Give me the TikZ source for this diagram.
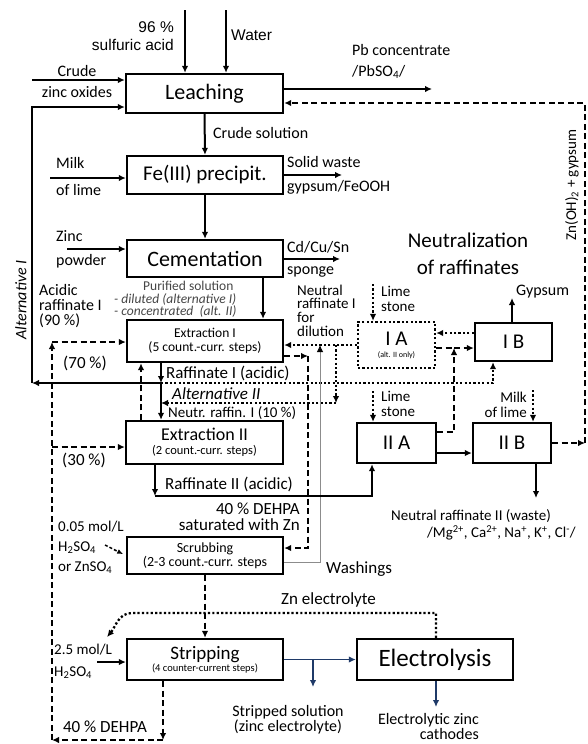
\documentclass[tikz,border=0pt]{standalone}
\usepackage{fontspec}
\setmainfont{Carlito}
\newfontfamily\arialf{Liberation Sans}
\usetikzlibrary{arrows.meta}
\newcommand\fsz[1]{\fontsize{#1}{#1}\selectfont}
\newcommand\fszb[2]{\fontsize{#1}{#2}\selectfont}
\definecolor{navy}{HTML}{1F3A68}
\definecolor{txtgray}{HTML}{454545}
\begin{document}
\begin{tikzpicture}[x=1pt,y=-1pt,
  every node/.style={inner sep=0pt},
  lab/.style={font=\fsz{16}},
  box/.style={draw, line width=2.3pt, align=center, inner sep=0pt},
  dbox/.style={box, dash pattern=on 2.2pt off 2.2pt},
  arr/.style={-{Latex[length=7pt,width=6.5pt]}},
  sol/.style={line width=2pt},
  dsh/.style={line width=2.3pt, dash pattern=on 6pt off 3.5pt},
  dtt/.style={line width=2.3pt, dash pattern=on 2.2pt off 2.2pt},
  bl/.style={line width=1.6pt, draw=navy},
  gl/.style={line width=0.8pt, draw=black!45},
]
\useasboundingbox (0,0) rectangle (588,744);

% ---------- boxes ----------
\node[box, minimum width=157pt, minimum height=39pt, font=\fsz{22}] (leach) at (204.5,93.5) {Leaching};
\node[box, minimum width=156pt, minimum height=38pt, font=\fsz{21}] (fe) at (205,175) {Fe(III) precipit.};
\node[box, minimum width=156pt, minimum height=37pt, font=\fsz{22}] (cem) at (205,258.5) {Cementation};
\node[box, minimum width=156pt, minimum height=42pt, font=\fsz{13.5}] (ex1) at (205,341) {Extraction I\\(5 count.-curr. steps)};
\node[box, minimum width=157pt, minimum height=43pt] (ex2) at (204.5,442.5) {\fsz{18}Extraction II\\[2.5pt]\fsz{12.5}(2 count.-curr. steps)};
\node[box, minimum width=156pt, minimum height=37pt, font=\fsz{14}] (scr) at (205,555.5) {Scrubbing\\(2-3 count.-curr. steps};
\node[box, minimum width=156pt, minimum height=41pt] (strip) at (205,659.5) {\fsz{19}Stripping\\\fsz{10.5}(4 counter-current steps)};
\node[box, minimum width=156pt, minimum height=41pt, font=\fsz{25}] (elec) at (435,659.5) {Electrolysis};
\node[dbox, minimum width=77pt, minimum height=46pt] (ia) at (396.5,345) {\fsz{21}I A\\\fsz{8}(alt. II only)};
\node[box, minimum width=77pt, minimum height=38pt, font=\fsz{21}] (ib) at (513.5,342) {I B};
\node[box, minimum width=79pt, minimum height=40pt, font=\fsz{21}] (iia) at (396.5,443) {II A};
\node[box, minimum width=78pt, minimum height=40pt, font=\fsz{21}] (iib) at (512,443) {II B};

% ---------- helper coordinates ----------
\coordinate (x161) at (161,0);
\coordinate (x141) at (141,0);
\coordinate (x263) at (263,0);
\coordinate (x163) at (163,0);
\coordinate (y333) at (0,333);
\coordinate (y453) at (0,453);

% ---------- top feeds ----------
\coordinate (acidin) at (185,10);
\coordinate (waterin) at (226,10);
\draw[sol,arr] (acidin) -- (acidin |- leach.north);
\draw[sol,arr] (waterin) -- (waterin |- leach.north);
\node[font=\arialf\fszb{15.5}{18}, align=right, anchor=east] (lsulf) at (174,36) {96 \%\\sulfuric acid};
\node[font=\arialf\fsz{15.5}, anchor=west] (lwater) at (231,35) {Water};

\coordinate (zoin) at (32,80);
\draw[sol,arr] (zoin) -- (zoin -| leach.west);
\node[lab] (lcrude) at (77,71) {Crude};
\node[lab] (lzo) at (77,92) {zinc oxides};

% Alternative I loop
\coordinate (raf1) at (161,383);
\coordinate (altI) at (32,383);
\coordinate (altItop) at (32,107);
\draw[sol,arr] (raf1) -- (altI);
\draw[sol,arr] (altI) -- (altItop) -- (altItop -| leach.west);
\node[font=\fsz{16}\itshape, rotate=90] (laltI) at (21,300) {Alternative I};

% Pb concentrate
\coordinate (pbout) at (432,89);
\draw[sol,arr] (leach.east |- pbout) -- (pbout);
\node[lab, anchor=west] (lpb) at (352,50) {Pb concentrate};
\node[lab, anchor=west] (lpbso) at (352,72) {/PbSO\textsubscript{4}/};

% return Zn(OH)2 + gypsum
\coordinate (rb) at (585,443);
\coordinate (rt) at (585,103);
\draw[dsh,arr] (iib.east) -- (rb);
\draw[dsh,arr] (rb) -- (rt) -- (rt -| leach.east);
\node[font=\fsz{15}, rotate=90] (lznoh) at (572,185) {Zn(OH)\textsubscript{2} + gypsum};

% ---------- leaching -> Fe -> cementation ----------
\draw[sol,arr] (leach.south) -- (fe.north);
\node[lab, anchor=west] (lcs) at (213,133) {Crude solution};

\coordinate (milk1) at (50,178);
\draw[sol,arr] (milk1) -- (milk1 -| fe.west);
\node[lab, anchor=west] (lmilk) at (56,163) {Milk};
\node[lab, anchor=west] (lofl) at (56,190) {of lime};

\coordinate (sw) at (342,175);
\draw[sol,arr] (fe.east |- sw) -- (sw);
\node[lab, anchor=west] (lsw) at (287,162) {Solid waste};
\node[lab, anchor=west] (lgf) at (287,187) {gypsum/FeOOH};

\draw[sol,arr] (fe.south) -- (cem.north);

\coordinate (zp) at (67,249);
\draw[sol,arr] (zp) -- (zp -| cem.west);
\node[lab, anchor=west] (lzinc) at (56,236) {Zinc};
\node[lab, anchor=west] (lpow) at (56,261) {powder};

\coordinate (cd) at (340,259);
\draw[sol,arr] (cem.east |- cd) -- (cd);
\node[lab, anchor=west] (lcd) at (287,247) {Cd/Cu/Sn};
\node[lab, anchor=west] (lsp) at (287,272) {sponge};

% ---------- cementation -> extraction I ----------
\draw[sol,arr] (x263 |- cem.south) -- (x263 |- ex1.north);
\node[font=\fszb{13.5}{12.5}, text=txtgray, align=left, anchor=west] (lpur) at (114,299.5)
  {\hspace*{29pt}Purified solution\\\itshape - diluted (alternative I)\\\itshape - concentrated\ \ (alt. II)};
\node[font=\fszb{16}{15}, align=left, anchor=west] (lacid) at (39,306) {Acidic\\raffinate I\\(90 \%)};

% left dashed organic loop
\coordinate (sb) at (163,740);
\coordinate (dl) at (52,740);
\coordinate (dtop) at (52,342);
\coordinate (d30) at (52,447);
\draw[dsh,arr] (x163 |- strip.south) -- (sb);
\draw[dsh,arr] (sb) -- (dl);
\draw[dsh,arr] (dl) -- (dtop);
\draw[dsh,arr] (dtop) -- (dtop -| ex1.west);
\draw[dsh,arr] (d30) -- (d30 -| ex2.west);
\node[font=\fsz{17}] (l70) at (85,363) {(70 \%)};
\node[font=\fsz{17}] (l30) at (84,460) {(30 \%)};
\node[font=\fsz{17}] (l40d) at (105,727) {40 \% DEHPA};

% raffinate I
\draw[sol,arr] (x161 |- ex1.south) -- (raf1);
\draw[sol,arr] (raf1) -- (x161 |- ex2.north);
\draw[dsh,arr] (x141 |- ex2.north) -- (x141 |- ex1.south);
\node[font=\fsz{17}, anchor=west] (lraf1) at (166,373) {Raffinate I (acidic)};

% Alternative II dotted
\coordinate (a2) at (493,383);
\draw[dtt,arr] (raf1) -- (a2) -- (a2 |- ib.south);
\node[font=\fsz{17}\itshape, anchor=west] (laltII) at (172,394) {Alternative II};

% neutral raffinate I
\coordinate (n1) at (336,345);
\coordinate (n2) at (336,403);
\draw[dtt,arr] (ia.west) -- (ia.west -| ex1.east);
\draw[dtt,arr] (n1) -- (n2);
\draw[dtt,arr] (n2) -- (n2 -| raf1);
\node[font=\fsz{15}, anchor=west] (lneutr) at (168,413) {Neutr. raffin. I (10 \%)};
\node[font=\fszb{15}{13.7}, align=left, anchor=west] (ln1) at (297,310.5) {Neutral\\raffinate I\\for\\dilution};

% washings (grey)
\coordinate (w1) at (320,562);
\draw[gl,-{Latex[length=7pt,width=6.5pt,color=black]}] (scr.east |- w1) -- (w1) -- (w1 |- ia.west);
\node[font=\fsz{17}, anchor=west] (lwash) at (326,569) {Washings};

% loaded organic to scrubbing
\coordinate (lo1) at (308,356);
\coordinate (lo2) at (308,548);
\draw[dsh,arr] (ex1.east |- lo1) -- (lo1);
\draw[dsh,arr] (lo1) -- (lo2) -- (lo2 -| scr.east);
\node[font=\fszb{17}{16}, align=right, anchor=east] (l40) at (300,517) {40 \% DEHPA\\saturated with Zn};

% ---------- neutralization ----------
\node[font=\fszb{21}{27}, align=center] (lneut) at (468,253.5) {Neutralization\\of raffinates};

\coordinate (ls1) at (373,284);
\draw[dtt,arr] (ls1) -- (ls1 |- ia.north);
\node[font=\fszb{15}{15}, align=left, anchor=west] (lls1) at (381,298.5) {Lime\\stone};

\draw[dtt,arr] (ib.west |- y333) -- (ia.east |- y333);
\coordinate (m) at (454,348);
\coordinate (m2) at (454,432);
\draw[dsh] (ia.east |- m) -- (m);
\draw[dsh,arr] (m) -- (m -| ib.west);
\draw[dsh,arr] (iia.east |- m2) -- (m2) -- (m);

\coordinate (gy) at (512,298);
\draw[sol,arr] (gy |- ib.north) -- (gy);
\node[font=\fsz{16}, anchor=west] (lgyp) at (516,292) {Gypsum};

\coordinate (ls2) at (373,391);
\draw[dtt,arr] (ls2) -- (ls2 |- iia.north);
\node[font=\fszb{15}{14.5}, align=left, anchor=west] (lls2) at (381,404) {Lime\\stone};

\coordinate (ml2) at (533,390);
\draw[dtt,arr] (ml2) -- (ml2 |- iib.north);
\node[font=\fszb{15}{15}, align=right, anchor=east] (lml) at (527,404.5) {Milk\\of lime};

\draw[sol,arr] (iia.east |- y453) -- (iib.west |- y453);

% raffinate II
\coordinate (r2a) at (155,496);
\coordinate (r2b) at (372,496);
\draw[sol,arr] (r2a |- ex2.south) -- (r2a);
\draw[sol,arr] (r2a) -- (r2b) -- (r2b |- iia.south);
\node[font=\fsz{17}, anchor=west] (lraf2) at (165,484) {Raffinate II (acidic)};

\coordinate (wst) at (536,498);
\draw[sol,arr] (wst |- iib.south) -- (wst);
\node[font=\fszb{15}{16.5}, align=left, anchor=west] (lnr2) at (391,525)
  {Neutral raffinate II (waste)\\\hspace*{36pt}/Mg\textsuperscript{2+}, Ca\textsuperscript{2+}, Na\textsuperscript{+}, K\textsuperscript{+}, Cl\textsuperscript{-}/};

% ---------- scrubbing / stripping ----------
\node[font=\fszb{15}{20}, align=left, anchor=west] (l005) at (58,547) {0.05 mol/L\\H\textsubscript{2}SO\textsubscript{4}\\or ZnSO\textsubscript{4}};
\coordinate (h2in) at (105,545);
\draw[line width=1.5pt, dash pattern=on 3pt off 2pt, -{Latex[length=6pt,width=5pt]}, shorten >=3pt] (h2in) -- (scr.west);

\draw[dsh,arr] (scr.south) -- (strip.north);

\coordinate (ze1) at (436,613);
\coordinate (ze2) at (132,613);
\coordinate (ze3) at (107,637);
\draw[dtt,arr] (ze1 |- elec.north) -- (ze1) -- (ze2) to[out=180,in=50] (ze3);
\node[font=\fsz{17}, anchor=west] (lzne) at (281,600) {Zn electrolyte};

\node[font=\fszb{15}{22}, align=left, anchor=west] (l25) at (54,661) {2.5 mol/L\\H\textsubscript{2}SO\textsubscript{4}};
\coordinate (h2s) at (97,662);
\draw[sol,arr] (h2s) -- (h2s -| strip.west);

% ---------- stripping -> electrolysis ----------
\draw[bl,arr] (strip.east) -- (elec.west);
\coordinate (ss) at (313,687);
\draw[bl,arr] (ss |- strip.east) -- (ss);
\node[font=\fszb{16}{15}, align=center] (lstr) at (288,719.5) {Stripped solution\\(zinc electrolyte)};

\coordinate (cat) at (436,707);
\draw[bl,arr] (cat |- elec.south) -- (cat);
\node[font=\fszb{16}{13.5}, align=right, anchor=east] (lcat) at (479,726.5) {Electrolytic zinc\\cathodes};
\end{tikzpicture}
\end{document}
